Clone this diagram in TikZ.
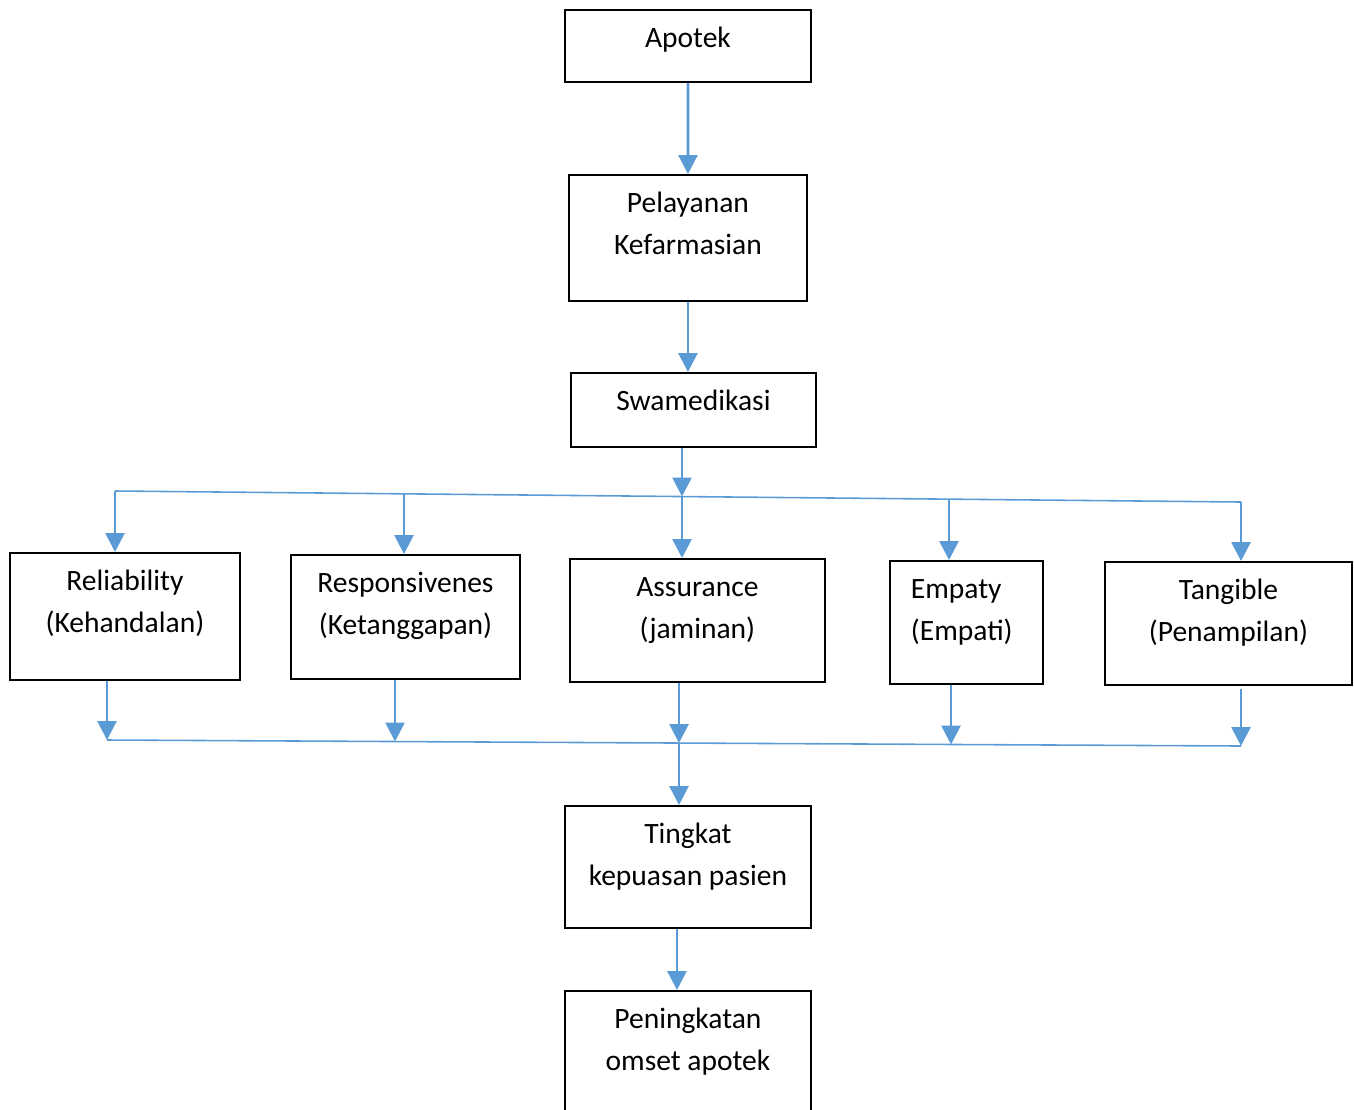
\documentclass[tikz,border=0pt]{standalone}
\usepackage{fontspec}
\setmainfont{Carlito}
\usetikzlibrary{arrows.meta}
\definecolor{linkblue}{RGB}{91,155,213}
\newcommand{\boxtxt}[4][\centering]{\parbox[t][#3][t]{#2}{#1\rule{0pt}{0.76cm}#4}}

\begin{document}
\begin{tikzpicture}[x=0.02cm,y=-0.02cm,
  box/.style={draw,line width=1.1pt,inner sep=0pt,anchor=north west,font=\fontsize{16.8}{23.6}\selectfont},
  arr/.style={draw=linkblue,line width=1.6pt,-{Triangle[length=0.38cm,width=0.38cm]}},
  bus/.style={draw=linkblue,line width=0.9pt}]
\useasboundingbox (0,0) rectangle (1354,1109);

\node[box] (apotek) at (564,9) {\boxtxt{4.92cm}{1.44cm}{Apotek}};
\node[box] (pelayanan) at (568,174) {\boxtxt{4.76cm}{2.52cm}{Pelayanan\\Kefarmasian}};
\node[box] (swamedikasi) at (570,372) {\boxtxt{4.90cm}{1.48cm}{Swamedikasi}};
\node[box] (reliability) at (9,552) {\boxtxt{4.60cm}{2.54cm}{Reliability\\(Kehandalan)}};
\node[box] (responsivenes) at (290,554) {\boxtxt{4.58cm}{2.48cm}{Responsivenes\\(Ketanggapan)}};
\node[box] (assurance) at (569,558) {\boxtxt{5.10cm}{2.46cm}{Assurance\\(jaminan)}};
\node[box] (empaty) at (889,560) {\boxtxt[\raggedright\leftskip=0.42cm]{3.06cm}{2.46cm}{Empaty\\(Empati)}};
\node[box] (tangible) at (1104,561) {\boxtxt{4.94cm}{2.46cm}{Tangible\\(Penampilan)}};
\node[box] (tingkat) at (564,805) {\boxtxt{4.92cm}{2.44cm}{Tingkat\\kepuasan pasien}};
\node[box] (peningkatan) at (564,990) {\boxtxt{4.92cm}{2.60cm}{Peningkatan\\omset apotek}};

\coordinate (t1) at (115,491);
\coordinate (t2) at (404,494);
\coordinate (t3) at (682,496.5);
\coordinate (t4) at (949,499);
\coordinate (t5) at (1241,502);
\coordinate (b1) at (107,740);
\coordinate (b2) at (395,741.5);
\coordinate (b3) at (679,743);
\coordinate (b4) at (951,744.5);
\coordinate (b5) at (1241,746);

\draw[arr] (apotek) -- (pelayanan);
\draw[arr] (pelayanan.south) -- (pelayanan.south |- swamedikasi.north);
\draw[arr] (swamedikasi.south -| t3) -- (t3);
\draw[bus] (t1) -- (t5);
\draw[arr] (t1) -- (reliability.north -| t1);
\draw[arr] (t2) -- (responsivenes.north -| t2);
\draw[arr] (t3) -- (assurance.north -| t3);
\draw[arr] (t4) -- (empaty.north -| t4);
\draw[arr] (t5) -- (tangible.north -| t5);
\draw[arr] (reliability.south -| b1) -- (b1);
\draw[arr] (responsivenes.south -| b2) -- (b2);
\draw[arr] (assurance.south -| b3) -- (b3);
\draw[arr] (empaty.south -| b4) -- (b4);
\draw[arr] ([yshift=-0.06cm]tangible.south -| b5) -- (b5);
\draw[bus] (b1) -- (b5);
\draw[arr] (b3) -- (tingkat.north -| b3);
\draw[arr] ([xshift=-0.22cm]tingkat.south) -- ([xshift=-0.22cm]peningkatan.north);
\end{tikzpicture}
\end{document}
